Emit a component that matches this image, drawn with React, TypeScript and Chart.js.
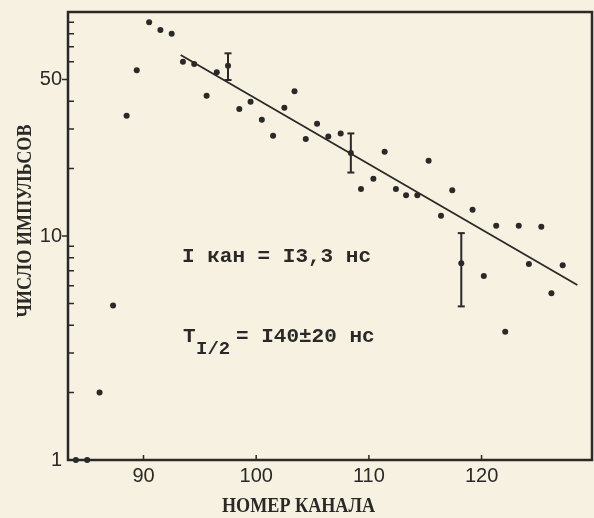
import React, { useEffect, useRef } from 'react';
import { Chart, registerables } from 'chart.js';

Chart.register(...registerables);

const INK = '#2b2927';
const PAPER = '#f6f1e1';

// measured channel numbers and pulse counts
const channels = [84.0, 85.0, 86.1, 87.3, 88.5, 89.4, 90.5, 91.5, 92.5, 93.5, 94.5, 95.6, 96.5, 97.5, 98.5, 99.5, 100.5, 101.5, 102.5, 103.4, 104.4, 105.4, 106.4, 107.5, 108.4, 109.3, 110.4, 111.4, 112.4, 113.3, 114.3, 115.3, 116.4, 117.4, 118.2, 119.2, 120.2, 121.3, 122.1, 123.3, 124.2, 125.3, 126.2, 127.2];
const counts = [1, 1, 2.0, 4.9, 34.4, 54.9, 89.9, 83.1, 80, 60, 58.6, 42.3, 53.8, 57.6, 36.9, 39.8, 33.0, 28.0, 37.4, 44.3, 27.1, 31.7, 27.8, 28.7, 23.5, 16.2, 18.0, 23.8, 16.2, 15.2, 15.2, 21.7, 12.3, 16.0, 7.55, 13.1, 6.63, 11.1, 3.74, 11.1, 7.5, 11.0, 5.55, 7.4];

// error bars
const errChannels = [97.5, 108.4, 118.2];
const errLow = [49.7, 19.2, 4.85];
const errHigh = [65.4, 28.7, 10.3];

// fitted exponential (straight on log scale)
const fitChannels = [93.3, 128.5];
const fitCounts = [64.3, 6.04];

// axes
const xMin = 83.3;
const xMax = 129.8;
const yMin = 1;
const yMax = 100;
const xTicks = [90, 100, 110, 120];
const yTicks = [1, 2, 3, 4, 5, 6, 7, 8, 9, 10, 20, 30, 40, 50, 60, 70, 80, 90, 100];
const yLabelled = [1, 10, 50];

const xTitle = 'НОМЕР КАНАЛА';
const yTitle = 'ЧИСЛО ИМПУЛЬСОВ';
const note1 = 'I кан = I3,3 нс';
const note2Main = 'T';
const note2Sub = 'I/2';
const note2Rest = '= I40±20 нс';

const paperPlugin = {
  id: 'paper',
  beforeDraw(chart: any) {
    const { ctx, width, height } = chart;
    ctx.save();
    ctx.fillStyle = PAPER;
    ctx.fillRect(0, 0, width, height);
    ctx.restore();
  },
};

const framePlugin = {
  id: 'frame',
  afterDraw(chart: any) {
    const { ctx, chartArea: a, scales } = chart;
    ctx.save();
    ctx.strokeStyle = INK;
    ctx.lineWidth = 2.5;
    ctx.strokeRect(a.left, a.top, a.right - a.left, a.bottom - a.top);

    ctx.lineWidth = 1.5;
    ctx.beginPath();
    yTicks.forEach((v) => {
      const py = scales.y.getPixelForValue(v);
      if (v === yMin || v === yMax) return;
      if (yLabelled.includes(v)) {
        ctx.moveTo(a.left - 6, py);
        ctx.lineTo(a.left, py);
      } else {
        ctx.moveTo(a.left, py);
        ctx.lineTo(a.left + 6, py);
      }
    });
    xTicks.forEach((v) => {
      const px = scales.x.getPixelForValue(v);
      ctx.moveTo(px, a.bottom);
      ctx.lineTo(px, a.bottom - 5);
    });
    ctx.stroke();

    // annotations
    ctx.fillStyle = INK;
    ctx.textAlign = 'left';
    ctx.textBaseline = 'alphabetic';
    ctx.font = 'bold 21px "Liberation Mono"';
    ctx.fillText(note1, 182, 262);
    ctx.fillText(note2Main, 183, 342);
    ctx.font = 'bold 19px "Liberation Mono"';
    ctx.fillText(note2Sub, 196, 354);
    ctx.font = 'bold 21px "Liberation Mono"';
    ctx.fillText(note2Rest, 236, 342);

    // axis titles
    ctx.font = 'bold 21px "Liberation Serif"';
    ctx.textAlign = 'center';
    let w = ctx.measureText(xTitle).width;
    ctx.save();
    ctx.translate(298.5, 512);
    ctx.scale(Math.min(1, 153 / w), 1);
    ctx.fillText(xTitle, 0, 0);
    ctx.restore();

    w = ctx.measureText(yTitle).width;
    ctx.save();
    ctx.translate(31, 221);
    ctx.rotate(-Math.PI / 2);
    ctx.scale(Math.min(1, 193 / w), 1);
    ctx.fillText(yTitle, 0, 0);
    ctx.restore();

    ctx.restore();
  },
};

export default function App() {
  const ref = useRef<HTMLCanvasElement | null>(null);

  useEffect(() => {
    document.body.style.margin = '0';
    document.body.style.background = PAPER;
    const canvas = ref.current;
    if (!canvas) return;

    const points = channels.map((c, i) => ({ x: c, y: counts[i] }));
    const errSets = errChannels.map((c, i) => ({
      type: 'scatter' as const,
      data: [
        { x: c, y: errLow[i] },
        { x: c, y: errHigh[i] },
      ],
      showLine: true,
      borderColor: INK,
      borderWidth: 2,
      pointStyle: 'line' as const,
      pointRadius: 3.5,
      pointBorderWidth: 2,
      pointBorderColor: INK,
      pointBackgroundColor: INK,
      clip: false as const,
    }));

    const zeroPad = (scale: any) => {
      scale.paddingTop = 0;
      scale.paddingBottom = 0;
      scale.paddingLeft = 0;
      scale.paddingRight = 0;
    };

    const chart = new Chart(canvas, {
      type: 'scatter',
      data: {
        datasets: [
          {
            data: fitChannels.map((c, i) => ({ x: c, y: fitCounts[i] })),
            showLine: true,
            borderColor: INK,
            borderWidth: 1.8,
            pointRadius: 0,
          },
          ...errSets,
          {
            data: points,
            pointRadius: 3,
            pointBackgroundColor: INK,
            pointBorderWidth: 0,
            clip: false as const,
          },
        ],
      },
      options: {
        animation: false,
        responsive: false,
        devicePixelRatio: 1,
        layout: { autoPadding: false, padding: { left: 0, right: 2, top: 12, bottom: 0 } },
        plugins: {
          legend: { display: false },
          tooltip: { enabled: false },
        },
        scales: {
          x: {
            type: 'linear',
            min: xMin,
            max: xMax,
            afterBuildTicks: (scale: any) => {
              scale.ticks = xTicks.map((v) => ({ value: v }));
            },
            afterFit: (scale: any) => {
              scale.height = 58;
              zeroPad(scale);
            },
            ticks: {
              color: INK,
              font: { family: '"Liberation Sans"', size: 20 },
              padding: 4,
              maxRotation: 0,
              autoSkip: false,
              callback: (v: any) => String(v),
            },
            grid: { display: false, drawTicks: false },
            border: { display: false },
          },
          y: {
            type: 'logarithmic',
            min: yMin,
            max: yMax,
            afterBuildTicks: (scale: any) => {
              scale.ticks = yTicks.map((v) => ({ value: v }));
            },
            afterFit: (scale: any) => {
              scale.width = 68;
              zeroPad(scale);
            },
            ticks: {
              color: INK,
              font: { family: '"Liberation Sans"', size: 20 },
              padding: 6,
              autoSkip: false,
              callback: (v: any) => (yLabelled.includes(Number(v)) ? String(v) : ''),
            },
            grid: { display: false, drawTicks: false },
            border: { display: false },
          },
        },
      },
      plugins: [paperPlugin, framePlugin],
    });

    return () => chart.destroy();
  }, []);

  return (
    <div style={{ width: 594, height: 518 }}>
      <canvas ref={ref} width={594} height={518} style={{ display: 'block', width: 594, height: 518 }} />
    </div>
  );
}
